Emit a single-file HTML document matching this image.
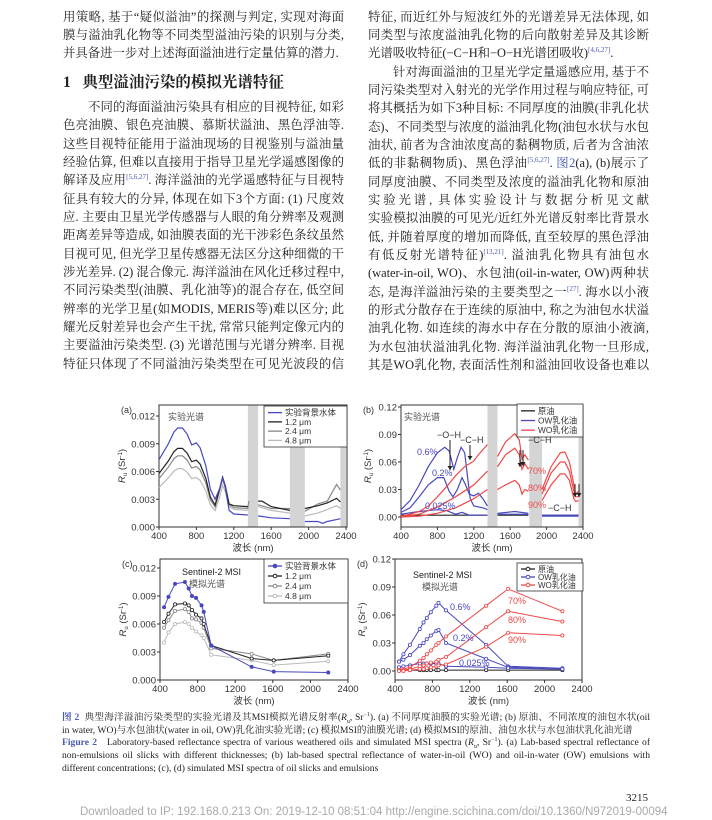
<!DOCTYPE html>
<html><head><meta charset="utf-8">
<style>
body{margin:0;background:#fff;}
#pg{position:relative;width:712px;height:820px;overflow:hidden;background:#fff;font-family:"Liberation Serif","Noto Serif CJK SC",serif;color:#222;}
.l{position:absolute;font-size:12.4px;line-height:16px;white-space:nowrap;height:16px;}
.j{text-align:justify;text-align-last:justify;white-space:normal;overflow:hidden;}
.L{left:63px;width:281px;}
.R{left:368px;width:281px;}
sup{font-size:7px;color:#4a5bb0;vertical-align:top;position:relative;top:-3px;}
.bl{color:#4a5bb0;}
.cap{position:absolute;left:62px;width:588px;font-size:9.6px;line-height:12px;white-space:nowrap;}
.cj{text-align:justify;text-align-last:justify;white-space:normal;height:12px;overflow:hidden;}
svg text{font-family:"Liberation Sans","Noto Sans CJK SC",sans-serif;}
</style></head><body><div id="pg">
<div class="l L j" style="top:9px">用策略, 基于“疑似溢油”的探测与判定, 实现对海面油</div>
<div class="l L j" style="top:27px">膜与溢油乳化物等不同类型溢油污染的识别与分类,</div>
<div class="l L" style="top:45px">并具备进一步对上述海面溢油进行定量估算的潜力.</div>
<div class="l L" style="top:75px;font-size:15.5px;font-weight:bold;">1&nbsp;&nbsp;&nbsp;典型溢油污染的模拟光谱特征</div>
<div class="l L j" style="top:99px">　　不同的海面溢油污染具有相应的目视特征, 如彩</div>
<div class="l L j" style="top:117px">色亮油膜、银色亮油膜、慕斯状溢油、黑色浮油等.</div>
<div class="l L j" style="top:136px">这些目视特征能用于溢油现场的目视鉴别与溢油量的</div>
<div class="l L j" style="top:154px">经验估算, 但难以直接用于指导卫星光学遥感图像的</div>
<div class="l L j" style="top:172px">解译及应用<sup>[5,6,27]</sup>. 海洋溢油的光学遥感特征与目视特</div>
<div class="l L j" style="top:191px">征具有较大的分异, 体现在如下3个方面: (1) 尺度效</div>
<div class="l L j" style="top:209px">应. 主要由卫星光学传感器与人眼的角分辨率及观测</div>
<div class="l L j" style="top:227px">距离差异等造成, 如油膜表面的光干涉彩色条纹虽然</div>
<div class="l L j" style="top:246px">目视可见, 但光学卫星传感器无法区分这种细微的干</div>
<div class="l L j" style="top:264px">涉光差异. (2) 混合像元. 海洋溢油在风化迁移过程中,</div>
<div class="l L j" style="top:282px">不同污染类型(油膜、乳化油等)的混合存在, 低空间分</div>
<div class="l L j" style="top:301px">辨率的光学卫星(如MODIS, MERIS等)难以区分; 此外</div>
<div class="l L j" style="top:319px">耀光反射差异也会产生干扰, 常常只能判定像元内的</div>
<div class="l L j" style="top:337px">主要溢油污染类型. (3) 光谱范围与光谱分辨率. 目视</div>
<div class="l L j" style="top:356px">特征只体现了不同溢油污染类型在可见光波段的信息</div>

<div class="l R j" style="top:9px">特征, 而近红外与短波红外的光谱差异无法体现, 如不</div>
<div class="l R j" style="top:27px">同类型与浓度溢油乳化物的后向散射差异及其诊断性</div>
<div class="l R" style="top:45px">光谱吸收特征(−C−H和−O−H光谱团吸收)<sup>[4,6,27]</sup>.</div>
<div class="l R j" style="top:64px">　　针对海面溢油的卫星光学定量遥感应用, 基于不</div>
<div class="l R j" style="top:82px">同污染类型对入射光的光学作用过程与响应特征, 可</div>
<div class="l R j" style="top:100px">将其概括为如下3种目标: 不同厚度的油膜(非乳化状</div>
<div class="l R j" style="top:119px">态)、不同类型与浓度的溢油乳化物(油包水状与水包</div>
<div class="l R j" style="top:137px">油状, 前者为含油浓度高的黏稠物质, 后者为含油浓度</div>
<div class="l R j" style="top:155px">低的非黏稠物质)、黑色浮油<sup>[5,6,27]</sup>. <span class="bl">图2</span>(a), (b)展示了不</div>
<div class="l R j" style="top:174px">同厚度油膜、不同类型及浓度的溢油乳化物和原油的</div>
<div class="l R j" style="top:192px">实验光谱, 具体实验设计与数据分析见文献<span class="bl">[13,21,27]</span>.</div>
<div class="l R j" style="top:210px">实验模拟油膜的可见光/近红外光谱反射率比背景水体</div>
<div class="l R j" style="top:229px">低, 并随着厚度的增加而降低, 直至较厚的黑色浮油(具</div>
<div class="l R j" style="top:247px">有低反射光谱特征)<sup>[13,21]</sup>. 溢油乳化物具有油包水</div>
<div class="l R j" style="top:265px">(water-in-oil, WO)、水包油(oil-in-water, OW)两种状</div>
<div class="l R j" style="top:284px">态, 是海洋溢油污染的主要类型之一<sup>[27]</sup>. 海水以小液滴</div>
<div class="l R j" style="top:302px">的形式分散存在于连续的原油中, 称之为油包水状溢</div>
<div class="l R j" style="top:320px">油乳化物. 如连续的海水中存在分散的原油小液滴, 则</div>
<div class="l R j" style="top:339px">为水包油状溢油乳化物. 海洋溢油乳化物一旦形成, 尤</div>
<div class="l R j" style="top:357px">其是WO乳化物, 表面活性剂和溢油回收设备也难以有</div>

<svg id="fig" width="712" height="820" style="position:absolute;left:0;top:0" xmlns="http://www.w3.org/2000/svg"></svg>

<div class="cap cj" style="top:712px"><span class="bl" style="font-weight:bold">图 2</span>&nbsp;&nbsp;典型海洋溢油污染类型的实验光谱及其MSI模拟光谱反射率(<i>R</i><sub style="font-size:6px">u</sub>, Sr<sup style="color:#222;font-size:6px">−1</sup>). (a) 不同厚度油膜的实验光谱; (b) 原油、不同浓度的油包水状(oil</div>
<div class="cap" style="top:725px">in water, WO)与水包油状(water in oil, OW)乳化油实验光谱; (c) 模拟MSI的油膜光谱; (d) 模拟MSI的原油、油包水状与水包油状乳化油光谱</div>
<div class="cap cj" style="top:737px"><span class="bl" style="font-weight:bold">Figure 2</span>&nbsp;&nbsp;&nbsp;Laboratory-based reflectance spectra of various weathered oils and simulated MSI spectra (<i>R</i><sub style="font-size:6px">u</sub>, Sr<sup style="color:#222;font-size:6px">−1</sup>). (a) Lab-based spectral reflectance of</div>
<div class="cap cj" style="top:750px">non-emulsions oil slicks with different thicknesses; (b) lab-based spectral reflectance of water-in-oil (WO) and oil-in-water (OW) emulsions with</div>
<div class="cap" style="top:763px">different concentrations; (c), (d) simulated MSI spectra of oil slicks and emulsions</div>
<div class="l" style="top:790px;left:626px;font-size:11px;">3215</div>
<div class="l" style="top:804px;left:80px;font-size:11.5px;color:#aaa;font-family:'Liberation Sans',sans-serif;">Downloaded to IP: 192.168.0.213 On: 2019-12-10 08:51:04 http://engine.scichina.com/doi/10.1360/N972019-00094</div>
</div>
<script>
var S=document.getElementById('fig'),h='';
var B='#4848c0',K='#222',G1='#888',G2='#bbb',Rd='#f04848';
function panel(p){
 var X=function(w){return p.xz+(w-400)/2000*(p.x2-p.xz)};
 var Y=function(v){return p.yz-v*p.k};
 p.X=X;p.Y=Y;
 (p.bands||[]).forEach(function(b){h+='<rect x="'+X(b[0])+'" y="'+p.t+'" width="'+(X(b[1])-X(b[0]))+'" height="'+(p.b-p.t)+'" fill="#d4d4d4"/>';});
 h+='<rect x="'+p.xz+'" y="'+p.t+'" width="'+(p.xr-p.xz)+'" height="'+(p.b-p.t)+'" fill="none" stroke="#333" stroke-width="1"/>';
 for(var w=400;w<=2400;w+=400){var x=X(w);h+='<line x1="'+x+'" x2="'+x+'" y1="'+p.b+'" y2="'+(p.b+3)+'" stroke="#333"/><text x="'+x+'" y="'+(p.b+12)+'" font-size="9.5" text-anchor="middle" fill="#333">'+w+'</text>';}
 p.yt.forEach(function(v){var y=Y(v[0]);h+='<line x1="'+(p.xz-3)+'" x2="'+p.xz+'" y1="'+y+'" y2="'+y+'" stroke="#333"/><text x="'+(p.xz-4)+'" y="'+(y+3.5)+'" font-size="9.5" text-anchor="end" fill="#333">'+v[1]+'</text>';});
 h+='<text x="'+((p.xz+p.xr)/2)+'" y="'+(p.b+24)+'" font-size="9.5" text-anchor="middle" fill="#333">波长 (nm)</text>';
 var yc=(p.t+p.b)/2,lx=p.xz-p.yo;
 h+='<text transform="translate('+lx+','+yc+') rotate(-90)" font-size="9.5" text-anchor="middle" fill="#333"><tspan font-style="italic">R</tspan><tspan font-size="6" dy="2">u</tspan><tspan dy="-2"> (Sr</tspan><tspan font-size="6" dy="-3">-1</tspan><tspan dy="3">)</tspan></text>';
 h+='<text x="'+(p.xz-38)+'" y="'+(p.t+8)+'" font-size="9" fill="#333">'+p.lab+'</text>';
}
function line(p,d,c,w,mk){
 var pts=[];d.forEach(function(a){pts.push(p.X(a[0]).toFixed(1)+','+p.Y(a[1]).toFixed(1))});
 h+='<polyline points="'+pts.join(' ')+'" fill="none" stroke="'+c+'" stroke-width="'+(w||1)+'"/>';
 if(mk)d.forEach(function(a){h+='<circle cx="'+p.X(a[0])+'" cy="'+p.Y(a[1])+'" r="1.6" fill="'+(mk=='f'?c:'#fff')+'" stroke="'+c+'" stroke-width="0.8"/>';});
}
function segs(p,d,c,w){var s=[];d.forEach(function(a){if(a===null){line(p,s,c,w);s=[];}else s.push(a);});if(s.length)line(p,s,c,w);}
function txt(x,y,t,c,fs,anc){h+='<text x="'+x+'" y="'+y+'" font-size="'+(fs||9)+'" fill="'+(c||'#333')+'"'+(anc?' text-anchor="'+anc+'"':'')+'>'+t+'</text>';}
function legend(x,y,w,hh,items,mk,fs){fs=fs||9;h+='<rect x="'+x+'" y="'+y+'" width="'+w+'" height="'+hh+'" fill="#fff" stroke="#333" stroke-width="0.8"/>';
 var st=(hh-4)/items.length;
 items.forEach(function(it,i){var yy=y+2+st*(i+0.5);h+='<line x1="'+(x+4)+'" x2="'+(x+18)+'" y1="'+yy+'" y2="'+yy+'" stroke="'+it[1]+'" stroke-width="1.3"/>';if(mk)h+='<circle cx="'+(x+11)+'" cy="'+yy+'" r="1.8" fill="'+(i==0&&mk=='c'?it[1]:'#fff')+'" stroke="'+it[1]+'"/>';txt(x+21,yy+fs*0.36,it[0],'#333',fs);});}

// (a)
var A={xz:159,x2:346,xr:347,yz:527,k:9250,t:405,b:527,yo:34,lab:'(a)',bands:[[1350,1460],[1800,1960],[2340,2400]],yt:[[0,'0.000'],[0.003,'0.003'],[0.006,'0.006'],[0.009,'0.009'],[0.012,'0.012']]};
panel(A);
var vis=[[400,.68],[500,.84],[560,.96],[600,1],[650,1],[700,.94],[750,.83],[800,.85],[840,.8],[900,.62],[950,.38],[1000,.28]];
function mk(m,tail){var d=vis.map(function(a){return [a[0],a[1]*m]});return d.concat(tail);}
segs(A,mk(0.0063,[[1050,.0033],[1080,.0045],[1110,.0038],[1150,.0022],[1200,.0019],[1350,.0018],null,[1460,.0022],[1600,.0018],[1800,.0015],null,[1960,.0012],[2100,.0015],[2200,.0019],[2300,.0023],[2340,.002]]),G2,1.2);
segs(A,mk(0.0077,[[1050,.004],[1080,.0052],[1110,.0042],[1150,.0024],[1200,.0021],[1350,.002],[1360,.0028],null,[1460,.0024],[1600,.002],[1800,.002],null,[1960,.0017],[2100,.0025],[2200,.0028],[2300,.0046],[2340,.004]]),G1,1.2);
segs(A,mk(0.0085,[[1050,.0042],[1080,.0054],[1110,.0044],[1150,.0025],[1200,.0023],[1350,.0022],null,[1460,.0028],[1500,.0028],[1600,.0022],[1800,.0018],null,[1960,.002],[2100,.0023],[2200,.0026],[2300,.0031],[2340,.0027]]),K,1.2);
segs(A,mk(0.0107,[[1050,.0042],[1080,.0054],[1110,.0042],[1150,.0018],[1200,.0014],[1350,.0013],null,[1460,.0012],[1600,.001],[1800,.0009],null,[1960,.0006],[2100,.0006],[2150,.0004],[2200,.0006],[2300,.0008],[2340,.0009]]),B,1.2);
legend(264,406,83,41,[['实验背景水体',B],['1.2 μm',K],['2.4 μm',G1],['4.8 μm',G2]],null,8.5);
txt(168,420,'实验光谱','#555',9);

// (b)
var Bp={xz:401,x2:583,xr:583,yz:517,k:916.7,t:405,b:527,yo:30,lab:'(b)',bands:[[1350,1460],[1810,1950],[2350,2400]],yt:[[0,'0.00'],[0.03,'0.03'],[0.06,'0.06'],[0.09,'0.09'],[0.12,'0.12']]};
panel(Bp);
segs(Bp,[[400,.002],[800,.002],[1350,.002],null,[1460,.002],[1800,.002],null,[1950,.002],[2350,.002]],K,1.2);
segs(Bp,[[400,.008],[500,.018],[600,.035],[700,.055],[800,.07],[880,.076],[930,.072],[980,.052],[1020,.065],[1060,.076],[1100,.07],[1130,.045],[1160,.02],[1200,.012],[1300,.01],[1350,.008],null,[1460,.004],[1650,.006],[1800,.004],null,[1950,.002],[2350,.002]],B,1.2);
segs(Bp,[[400,.005],[500,.01],[600,.022],[700,.035],[800,.043],[870,.043],[930,.028],[970,.022],[1020,.03],[1070,.043],[1110,.035],[1150,.025],[1200,.023],[1250,.026],[1300,.02],[1350,.012],null,[1460,.003],[1800,.003],null,[1950,.001],[2350,.001]],B,1.2);
segs(Bp,[[400,.003],[600,.006],[800,.008],[900,.007],[1000,.003],[1070,.005],[1150,.002],[1350,.002]],B,1.2);
segs(Bp,[[400,.001],[500,.003],[600,.006],[700,.012],[800,.022],[900,.033],[1000,.045],[1100,.055],[1200,.061],[1250,.068],[1350,.079],null,[1460,.066],[1550,.082],[1650,.091],[1700,.084],[1730,.063],[1760,.068],[1800,.062],null,[1950,.03],[2050,.055],[2150,.07],[2200,.071],[2250,.06],[2300,.035],[2320,.025],[2350,.028]],Rd,1.2);
segs(Bp,[[400,.0005],[600,.003],[800,.011],[1000,.022],[1200,.035],[1350,.05],null,[1460,.055],[1550,.068],[1650,.075],[1700,.068],[1730,.052],[1760,.058],[1800,.052],null,[1950,.025],[2050,.048],[2150,.06],[2200,.06],[2250,.05],[2300,.028],[2320,.022],[2350,.022]],Rd,1.2);
segs(Bp,[[400,0],[600,.001],[800,.004],[1000,.01],[1200,.02],[1350,.03],null,[1460,.03],[1550,.035],[1650,.04],[1700,.035],[1730,.025],[1760,.03],[1800,.028],null,[1950,.018],[2050,.035],[2150,.047],[2200,.047],[2250,.04],[2300,.02],[2320,.017],[2350,.018]],Rd,1.2);
legend(517,404,66,33,[['原油',K],['OW乳化油',B],['WO乳化油',Rd]],null,8.3);
txt(404,420,'实验光谱','#555',9);
txt(417,455,'0.6%',B,9);txt(432,476,'0.2%',B,9);txt(425,509,'0.025%',B,9);
txt(437,438,'−O−H','#333',9);txt(460,443,'−C−H','#333',9);
txt(528,443,'−C−H','#333',9);txt(528,474,'70%',Rd,9);txt(528,491,'80%',Rd,9);txt(528,508,'90%',Rd,9);txt(548,511,'−C−H','#333',9);
function arr(x,y1,y2){h+='<line x1="'+x+'" x2="'+x+'" y1="'+y1+'" y2="'+y2+'" stroke="#222" stroke-width="1"/><path d="M'+(x-2.5)+','+(y2-4)+' L'+x+','+y2+' L'+(x+2.5)+','+(y2-4)+'Z" fill="#222"/>';}
arr(450,440,470);arr(470,445,460);arr(520,450,467);arr(523,450,466);arr(575,484,497);arr(579,484,497);

// (c)
var C={xz:160,x2:348,xr:348,yz:680,k:9333,t:559,b:680,yo:34,lab:'(c)',yt:[[0,'0.000'],[0.003,'0.003'],[0.006,'0.006'],[0.009,'0.009'],[0.012,'0.012']]};
panel(C);
var bw=[443,490,560,665,705,740,783,842,865,945,1375,1610,2190];
function z(v){return bw.map(function(w,i){return [w,v[i]]});}
line(C,z([.004,.0051,.006,.0062,.006,.0056,.0052,.0048,.0045,.0027,.0021,.0016,.002]),G2,1,'o');
line(C,z([.0056,.0064,.0074,.0076,.0073,.0066,.0065,.0061,.0056,.0034,.0028,.0021,.0028]),G1,1,'o');
line(C,z([.0062,.0071,.0081,.0082,.008,.0075,.007,.0066,.006,.0037,.0023,.0021,.0026]),K,1,'o');
line(C,z([.0078,.0089,.0103,.0105,.0098,.009,.0088,.008,.0073,.0037,.0014,.0009,.0008]),B,1,'f');
legend(264,559,84,44,[['实验背景水体',B],['1.2 μm',K],['2.4 μm',G1],['4.8 μm',G2]],'c',8.5);
txt(182,575,'Sentinel-2 MSI','#222',9);txt(189,587,'模拟光谱','#555',9);

// (d)
var D={xz:395,x2:582,xr:582,yz:671,k:933,t:559,b:680,yo:30,lab:'(d)',yt:[[0,'0.00'],[0.03,'0.03'],[0.06,'0.06'],[0.09,'0.09'],[0.12,'0.12']]};
panel(D);
line(D,z([.001,.001,.001,.001,.001,.001,.001,.001,.001,.001,.001,.001,.001]),K,1,'o');
line(D,z([.01,.018,.028,.045,.052,.057,.063,.07,.073,.065,.028,.005,.003]),B,1,'o');
line(D,z([.01,.012,.017,.027,.03,.034,.038,.043,.044,.03,.013,.004,.002]),B,1,'o');
line(D,z([.004,.005,.006,.008,.008,.008,.008,.008,.008,.005,.004,.003,.002]),B,1,'o');
line(D,z([.001,.002,.004,.011,.014,.018,.022,.028,.03,.037,.07,.088,.064]),Rd,1,'o');
line(D,z([.001,.001,.002,.005,.006,.008,.009,.01,.012,.015,.047,.064,.053]),Rd,1,'o');
line(D,z([0,0,.001,.002,.002,.003,.004,.005,.006,.007,.026,.041,.038]),Rd,1,'o');
legend(517,563,66,28,[['原油',K],['OW乳化油',B],['WO乳化油',Rd]],'o',8);
txt(413,578,'Sentinel-2 MSI','#222',9);txt(422,590,'模拟光谱','#555',9);
txt(450,610,'0.6%',B,9);txt(453,641,'0.2%',B,9);txt(459,666,'0.025%',B,9);
txt(508,604,'70%',Rd,9);txt(508,623,'80%',Rd,9);txt(508,643,'90%',Rd,9);
S.innerHTML=h;
</script>
</body></html>
